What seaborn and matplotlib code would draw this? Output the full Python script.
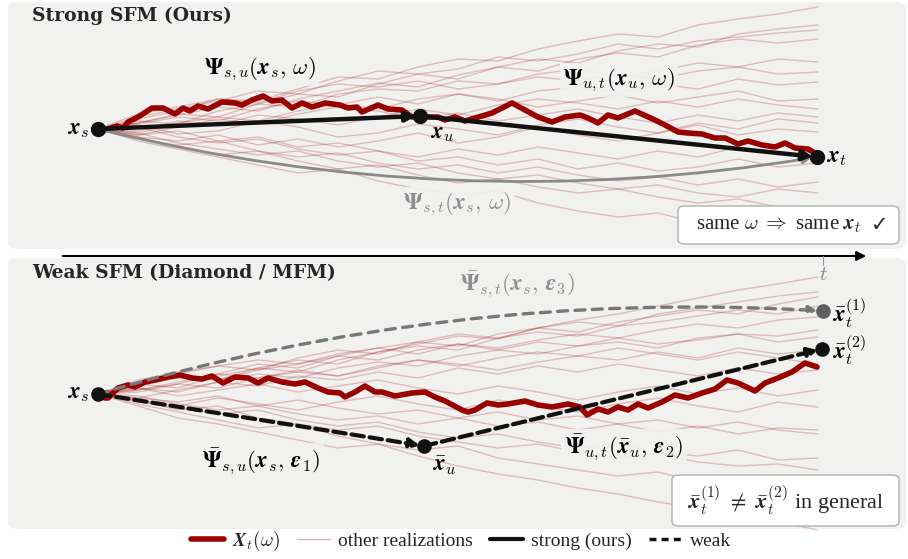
import numpy as np
import pandas as pd
import matplotlib
matplotlib.use("Agg")
import matplotlib.pyplot as plt
import seaborn as sns
from matplotlib.patches import FancyBboxPatch, FancyArrowPatch
from matplotlib.lines import Line2D

# ---------------- data ----------------
# time measured in simulation steps (s = 0, t = 719); state measured relative to x_s
grid_steps = [0, 40, 80, 120, 160, 200, 240, 280, 320, 360, 400, 440, 480, 520, 560, 600, 640, 680, 720]

strong_main_steps = [0, 7, 19, 25, 30, 40, 54, 65, 77, 85, 92, 100, 110, 124, 137, 144, 154, 165, 174, 184,
                     194, 204, 214, 227, 242, 250, 259, 264, 280, 290, 304, 314, 327, 340, 347, 357, 367, 377, 394, 414,
                     427, 440, 454, 467, 482, 490, 500, 510, 520, 537, 557, 567, 580, 590, 604, 617, 627, 640, 650, 664,
                     677, 687, 697, 710, 717, 719]
strong_main_values = [0, -1, 3, 1, 7, 12, 21, 21, 15, 21, 18, 23, 20, 27, 26, 24, 29, 33, 28, 29,
                      21, 26, 22, 26, 24, 21, 22, 17, 24, 20, 19, 12, 12, 12, 9, 12, 8, 11, 16, 26,
                      19, 12, 7, 12, 14, 11, 6, 14, 11, 18, 9, 4, -3, -4, -5, -9, -9, -15, -12, -16,
                      -18, -14, -19, -20, -24, -28]

weak_main_steps = [0, 7, 10, 20, 30, 37, 47, 57, 70, 82, 94, 104, 114, 125, 137, 150, 160, 170, 184, 197, 207,
                   220, 230, 242, 247, 257, 267, 277, 284, 297, 314, 327, 337, 347, 364, 370, 377, 389, 400, 410, 427,
                   440, 454, 470, 482, 489, 500, 510, 520, 530, 540, 550, 564, 577, 590, 604, 617, 629, 640, 657, 667,
                   680, 694, 707, 719]
weak_main_values = [0, -4, -4, 6, 9, 7, 12, 14, 17, 19, 16, 15, 18, 11, 17, 16, 11, 16, 12, 10, 12,
                    6, 2, 1, -3, 2, 8, 2, 2, -2, 1, 2, -3, -7, -16, -18, -16, -9, -11, -10, -7,
                    -11, -13, -10, -13, -21, -15, -18, -13, -16, -10, -14, -8, -1, -4, 1, 5, 14, 11, 3, 11,
                    16, 22, 31, 27]

strong_other_paths = [
    [0, 10, 18, 30, 28, 40, 52, 50, 62, 70, 68, 80, 88, 95, 92, 104, 110, 115, 122],
    [0, 6, 15, 12, 25, 35, 32, 45, 55, 50, 62, 70, 66, 78, 85, 82, 95, 100, 104],
    [0, 12, 20, 28, 38, 35, 48, 58, 55, 60, 72, 68, 75, 85, 80, 88, 92, 96, 99],
    [0, 8, 5, 18, 25, 22, 35, 40, 38, 48, 45, 55, 60, 52, 58, 66, 62, 70, 67],
    [0, 15, 22, 30, 26, 38, 45, 42, 48, 40, 45, 52, 48, 55, 50, 58, 62, 55, 57],
    [0, -4, 6, 12, 8, 18, 25, 20, 30, 35, 28, 38, 42, 36, 45, 40, 50, 44, 47],
    [0, 5, 12, 8, 20, 28, 24, 32, 25, 35, 30, 22, 28, 34, 26, 32, 38, 28, 30],
    [0, -6, 2, 10, 5, 15, 22, 18, 10, 16, 8, 14, 20, 12, 6, 14, 8, 16, 12],
    [0, 4, -5, -2, 8, 2, -8, -4, 5, 0, -6, 4, 10, 2, -4, 6, 0, 10, 6],
    [0, -8, -12, -6, -16, -10, -18, -12, -4, -14, -8, 2, -6, -12, -4, 4, -6, 0, -3],
    [0, -6, -2, -12, -8, -18, -14, -22, -28, -20, -26, -18, -24, -30, -22, -28, -18, -26, -23],
    [0, 2, -8, -14, -10, -20, -26, -22, -32, -28, -36, -30, -40, -34, -42, -38, -30, -38, -34],
    [0, -10, -16, -12, -22, -28, -24, -34, -40, -36, -44, -38, -46, -52, -48, -56, -50, -58, -53],
    [0, -4, -14, -20, -26, -22, -32, -38, -34, -44, -50, -46, -54, -60, -56, -64, -68, -60, -64],
    [0, -8, -18, -26, -22, -32, -40, -36, -46, -54, -50, -58, -64, -60, -68, -74, -70, -78, -80],
    [0, -12, -20, -28, -36, -44, -40, -52, -60, -66, -62, -74, -82, -88, -84, -94, -100, -104, -110],
    [0, 6, 14, 22, 18, 30, 38, 46, 42, 54, 62, 58, 70, 76, 72, 84, 90, 86, 90],
    [0, -2, 8, 4, 14, 10, 4, 12, 20, 14, 24, 30, 26, 20, 28, 22, 30, 24, 20],
]

weak_other_paths = [
    [0, 8, 16, 14, 26, 34, 30, 42, 50, 58, 55, 66, 74, 80, 88, 96, 104, 110, 117],
    [0, 12, 20, 28, 24, 36, 44, 40, 52, 60, 56, 66, 72, 68, 80, 86, 92, 98, 102],
    [0, 4, 10, 20, 30, 26, 38, 46, 52, 48, 60, 66, 62, 72, 78, 84, 80, 90, 97],
    [0, 10, 18, 14, 24, 30, 38, 34, 44, 50, 46, 54, 60, 56, 64, 70, 66, 74, 77],
    [0, 6, 2, 12, 20, 16, 26, 32, 28, 38, 44, 40, 48, 52, 46, 56, 60, 58, 64],
    [0, 14, 22, 28, 34, 30, 40, 46, 40, 50, 44, 52, 48, 56, 50, 54, 60, 52, 57],
    [0, 2, 10, 6, 16, 22, 18, 28, 34, 30, 24, 32, 38, 34, 42, 36, 46, 40, 44],
    [0, -4, 4, 12, 8, 18, 14, 22, 16, 26, 20, 28, 22, 30, 24, 18, 26, 20, 24],
    [0, 6, -2, 4, 10, 2, 8, 14, 6, 0, 8, 2, -6, 2, 8, 0, 6, -2, 4],
    [0, -6, -12, -4, -10, -16, -8, -2, -10, -16, -6, -12, -18, -10, -4, -12, -18, -8, -13],
    [0, -2, -10, -16, -12, -20, -26, -22, -30, -24, -32, -28, -36, -30, -38, -32, -40, -34, -36],
    [0, -8, -14, -20, -16, -26, -32, -28, -38, -44, -40, -48, -54, -50, -58, -62, -56, -66, -64],
    [0, -6, -16, -12, -24, -30, -36, -32, -42, -48, -54, -50, -58, -64, -60, -68, -72, -70, -76],
    [0, -10, -18, -26, -34, -30, -42, -50, -56, -52, -64, -70, -76, -82, -78, -88, -94, -100, -106],
    [0, -12, -24, -30, -38, -46, -54, -50, -62, -72, -80, -86, -94, -100, -108, -114, -122, -128, -136],
    [0, 10, 6, 18, 26, 22, 34, 42, 48, 44, 56, 62, 58, 68, 72, 78, 84, 80, 88],
    [0, 4, 12, 20, 16, 24, 18, 26, 34, 28, 36, 42, 38, 46, 40, 34, 42, 36, 30],
    [0, -4, -8, -2, -12, -6, -14, -20, -16, -24, -18, -26, -22, -30, -26, -34, -28, -36, -40],
]

# key states: x_s, x_u, x_t
strong_node_steps = [0, 322, 719]
strong_node_values = [0, 13, -28]
# key states: x_s, xbar_u, xbar_t^(2), xbar_t^(1)
weak_node_steps = [0, 326, 724, 725]
weak_node_values = [0, -52, 45, 83]

panel_titles = ["Strong SFM (Ours)", "Weak SFM (Diamond / MFM)"]
legend_labels = [r"$\boldsymbol{X}_t(\omega)$", "other realizations", "strong (ours)", "weak"]

# ---------------- style ----------------
W, H = 908, 559
RED = "#990000"
PANEL = "#f1f1f0"
GRAY_TXT = "#8e8e8e"

sns.set_style("white")
plt.rcParams["font.family"] = ["Liberation Serif", "DejaVu Sans"]
plt.rcParams["mathtext.fontset"] = "cm"

fig = plt.figure(figsize=(W / 100, H / 100), dpi=100)
fig.patch.set_facecolor("white")


def fx(px):
    return px / W


def fy(py):
    return 1 - py / H


# panel backgrounds
for (x0, y0, x1, y1) in [(8, 2, 906, 249), (8, 258, 906, 529)]:
    fig.add_artist(FancyBboxPatch((fx(x0), fy(y1)), fx(x1) - fx(x0), fy(y0) - fy(y1),
                                  boxstyle="round,pad=0,rounding_size=0.012",
                                  transform=fig.transFigure, facecolor=PANEL,
                                  edgecolor="none", zorder=-5))

ax_top = fig.add_axes([0, 303 / H, 1, 256 / H])
ax_bot = fig.add_axes([0, 0, 1, 303 / H])


def paths_frame(paths):
    rows = []
    for i, vals in enumerate(paths):
        for s, v in zip(grid_steps, vals):
            rows.append((i, s, v))
    return pd.DataFrame(rows, columns=["path", "step", "value"])


for ax, others, ms, mv in [(ax_top, strong_other_paths, strong_main_steps, strong_main_values),
                           (ax_bot, weak_other_paths, weak_main_steps, weak_main_values)]:
    sns.lineplot(data=paths_frame(others), x="step", y="value", units="path", estimator=None,
                 color=RED, alpha=0.22, lw=1.0, ax=ax, legend=False, sort=False, zorder=1)
    sns.lineplot(x=ms, y=mv, color=RED, lw=4, ax=ax, sort=False, zorder=3)
    ax.patch.set_visible(False)
    ax.set_axis_off()
    ax.set_xlim(-98, 810)

ax_top.set_ylim(-127, 129)
ax_bot.set_ylim(-165, 138)

# ---- strong panel arrows ----
sp = list(zip(strong_node_steps, strong_node_values))
for a, b in [(0, 1), (1, 2)]:
    ax_top.annotate("", xy=sp[b], xytext=sp[a],
                    arrowprops=dict(arrowstyle="-|>", color="#111111", lw=3.2, mutation_scale=14,
                                    shrinkA=0, shrinkB=3), zorder=5)
ax_top.annotate("", xy=sp[2], xytext=sp[0],
                arrowprops=dict(arrowstyle="-|>", color="#8a8a8a", lw=2, mutation_scale=12,
                                shrinkA=0, shrinkB=4, connectionstyle="arc3,rad=0.103"), zorder=4)
ax_top.plot(strong_node_steps, strong_node_values, "o", ms=10, color="#111111", zorder=7)

# ---- weak panel arrows ----
wp = list(zip(weak_node_steps, weak_node_values))
for a, b in [(0, 1), (1, 2)]:
    ax_bot.annotate("", xy=wp[b], xytext=wp[a],
                    arrowprops=dict(arrowstyle="-|>", color="#111111", lw=3, mutation_scale=14,
                                    shrinkA=0, shrinkB=3, linestyle=(0, (3, 1.4))), zorder=5)
ax_bot.annotate("", xy=wp[3], xytext=wp[0],
                arrowprops=dict(arrowstyle="-|>", color="#777777", lw=2.4, mutation_scale=12,
                                shrinkA=0, shrinkB=4, linestyle=(0, (3, 2.2)),
                                connectionstyle="arc3,rad=-0.088"), zorder=4)
ax_bot.plot(weak_node_steps[:3], weak_node_values[:3], "o", ms=9.5, color="#111111", zorder=7)
ax_bot.plot(weak_node_steps[3:], weak_node_values[3:], "o", ms=9.5, color="#5e5e5e", zorder=7)

# ---------------- text ----------------
TFS = 13.5
MFS = 16.5
lbl_box = dict(boxstyle="square,pad=0.15", facecolor=PANEL, edgecolor="none", alpha=0.92)

fig.text(fx(32), fy(16), panel_titles[0], family="DejaVu Serif", weight="bold", fontsize=TFS,
         ha="left", va="center")
fig.text(fx(32), fy(273), panel_titles[1], family="DejaVu Serif", weight="bold", fontsize=TFS,
         ha="left", va="center")

labels = [
    (260, 69, r"$\mathbf{Ψ}_{s,u}(\boldsymbol{x}_s,\,\omega)$", "k", "center", True),
    (619, 80, r"$\mathbf{Ψ}_{u,t}(\boldsymbol{x}_u,\,\omega)$", "k", "center", True),
    (457, 204, r"$\mathbf{Ψ}_{s,t}(\boldsymbol{x}_s,\,\omega)$", GRAY_TXT, "center", True),
    (89, 130, r"$\boldsymbol{x}_s$", "k", "right", False),
    (430, 133, r"$\boldsymbol{x}_u$", "k", "left", False),
    (826, 157, r"$\boldsymbol{x}_t$", "k", "left", False),
    (518, 285, r"$\bar{\mathbf{Ψ}}_{s,t}(\boldsymbol{x}_s,\,\boldsymbol{\epsilon}_3)$", GRAY_TXT, "center", True),
    (832, 313, r"$\bar{\boldsymbol{x}}_t^{(1)}$", "k", "left", False),
    (832, 350, r"$\bar{\boldsymbol{x}}_t^{(2)}$", "k", "left", False),
    (89, 394, r"$\boldsymbol{x}_s$", "k", "right", False),
    (261, 462, r"$\bar{\mathbf{Ψ}}_{s,u}(\boldsymbol{x}_s,\,\boldsymbol{\epsilon}_1)$", "k", "center", True),
    (432, 466, r"$\bar{\boldsymbol{x}}_u$", "k", "left", False),
    (624, 448, r"$\bar{\mathbf{Ψ}}_{u,t}(\bar{\boldsymbol{x}}_u,\,\boldsymbol{\epsilon}_2)$", "k", "center", True),
]
for px, py, s, c, ha, boxed in labels:
    fig.text(fx(px), fy(py), s, color=c, fontsize=MFS, ha=ha, va="center",
             bbox=lbl_box if boxed else None, zorder=6)

# note boxes
notes = [((678, 206, 899, 244), r"same $\omega\;\Rightarrow\;$same $\boldsymbol{x}_t$", True, 15),
         ((672, 475, 899, 526),
          r"$\bar{\boldsymbol{x}}_t^{(1)}\;\neq\;\bar{\boldsymbol{x}}_t^{(2)}$ in general", False, 16)]
for (x0, y0, x1, y1), s, check, fs in notes:
    fig.add_artist(FancyBboxPatch((fx(x0), fy(y1)), fx(x1) - fx(x0), fy(y0) - fy(y1),
                                  boxstyle="round,pad=0,rounding_size=0.008",
                                  transform=fig.transFigure, facecolor="white",
                                  edgecolor="#b0b0b0", lw=1, zorder=8))
    cx = (x0 + x1) / 2 - (10 if check else 0)
    fig.text(fx(cx), fy((y0 + y1) / 2), s, fontsize=fs, ha="center", va="center", zorder=9)
    if check:
        fig.text(fx(888), fy((y0 + y1) / 2), "✓", family="DejaVu Sans", fontsize=15,
                 ha="right", va="center", zorder=9)

# time axis
fig.add_artist(FancyArrowPatch((fx(60), fy(256)), (fx(869), fy(256)), transform=fig.transFigure,
                               arrowstyle="-|>", mutation_scale=14, lw=1.5, color="black", zorder=6))
fig.add_artist(Line2D([fx(823), fx(823)], [fy(256), fy(265)], transform=fig.transFigure,
                      color="#999999", lw=0.8, zorder=6))
fig.text(fx(823), fy(276), r"$t$", color="#888888", fontsize=15, ha="center", va="center")

# legend
handles = [Line2D([], [], color=RED, lw=4),
           Line2D([], [], color=RED, lw=1, alpha=0.3),
           Line2D([], [], color="#111111", lw=3),
           Line2D([], [], color="#111111", lw=2.5, linestyle=(0, (2, 1.5)))]
fig.legend(handles, legend_labels, loc="center", bbox_to_anchor=(fx(461), fy(541)), ncol=4,
           frameon=False, fontsize=14, handlelength=1.7, handletextpad=0.4, columnspacing=0.9)

fig.savefig("out.png", dpi=100, facecolor="white")
